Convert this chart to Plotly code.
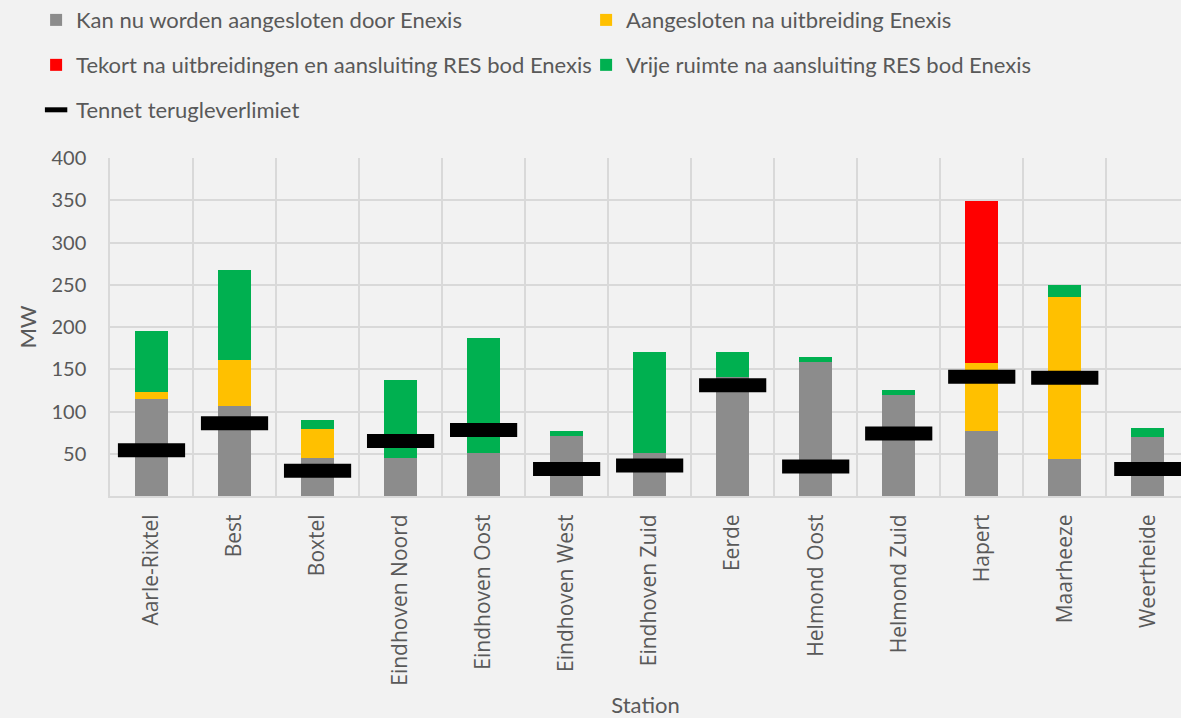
import plotly.graph_objects as go

stations = ["Aarle-Rixtel", "Best", "Boxtel", "Eindhoven Noord", "Eindhoven Oost",
            "Eindhoven West", "Eindhoven Zuid", "Eerde", "Helmond Oost", "Helmond Zuid",
            "Hapert", "Maarheeze", "Weertheide"]
kan_nu = [115, 107, 45, 45, 51, 71, 51, 141, 158, 119, 77, 44, 70]
na_uitbreiding = [8, 54, 34, 0, 0, 0, 0, 0, 0, 0, 80, 191, 0]
tekort = [0, 0, 0, 0, 0, 0, 0, 0, 0, 0, 192, 0, 0]
vrije_ruimte = [72, 106, 11, 92, 136, 6, 120, 29, 7, 7, 0, 15, 10]
tennet = [54, 86, 30, 65, 78, 32, 36, 131, 35, 74, 141, 140, 32]

TXT = "#595959"
FONT = "Lato"

fig = go.Figure()
fig.add_trace(go.Bar(x=stations, y=kan_nu, name="Kan nu worden aangesloten door Enexis",
                     marker=dict(color="#8c8c8c", line=dict(width=0)), width=0.4, legend="legend"))
fig.add_trace(go.Bar(x=stations, y=na_uitbreiding, name="Aangesloten na uitbreiding Enexis",
                     marker=dict(color="#ffc000", line=dict(width=0)), width=0.4, legend="legend"))
fig.add_trace(go.Bar(x=stations, y=tekort, name="Tekort na uitbreidingen en aansluiting RES bod Enexis",
                     marker=dict(color="#ff0000", line=dict(width=0)), width=0.4, legend="legend2"))
fig.add_trace(go.Bar(x=stations, y=vrije_ruimte, name="Vrije ruimte na aansluiting RES bod Enexis",
                     marker=dict(color="#00b050", line=dict(width=0)), width=0.4, legend="legend2"))
fig.add_trace(go.Scatter(x=stations, y=tennet, name="Tennet terugleverlimiet", mode="markers",
                         marker=dict(symbol="line-ew", size=48, color="black",
                                     line=dict(color="black", width=14)),
                         legend="legend3"))

leg_common = dict(orientation="h", xanchor="left", yanchor="middle", traceorder="normal",
                  font=dict(family=FONT, size=22, color=TXT),
                  bgcolor="rgba(0,0,0,0)", entrywidth=505, itemwidth=30)

fig.update_layout(
    barmode="stack",
    width=1181, height=718,
    paper_bgcolor="#f2f2f2", plot_bgcolor="#f2f2f2",
    margin=dict(l=110, r=0, t=158, b=222, autoexpand=False),
    font=dict(family=FONT, color=TXT),
    legend=dict(x=-0.069, y=1.408, **leg_common),
    legend2=dict(x=-0.069, y=1.275, **leg_common),
    legend3=dict(x=-0.069, y=1.142, **leg_common),
    xaxis=dict(
        type="category", range=[-0.5, 12.4], tickson="boundaries", automargin=False,
        showgrid=True, gridcolor="#d9d9d9", gridwidth=1.5,
        showline=True, linecolor="#d9d9d9", linewidth=2,
        ticks="", tickangle=-90, ticklabelstandoff=8,
        tickfont=dict(family="Open Sans", size=21, color=TXT),
        title=dict(text="Station", font=dict(family=FONT, size=22, color=TXT), standoff=20),
    ),
    yaxis=dict(
        range=[0, 400], tickvals=[50, 100, 150, 200, 250, 300, 350, 400], automargin=False,
        showgrid=True, gridcolor="#d9d9d9", gridwidth=1.5,
        showline=True, linecolor="#d9d9d9", linewidth=1.5,
        zeroline=False, ticks="", ticklabelstandoff=18,
        tickfont=dict(family=FONT, size=20, color=TXT),
        title=dict(text="MW", font=dict(family=FONT, size=22, color=TXT), standoff=9),
    ),
)

fig.write_html("out.html")
